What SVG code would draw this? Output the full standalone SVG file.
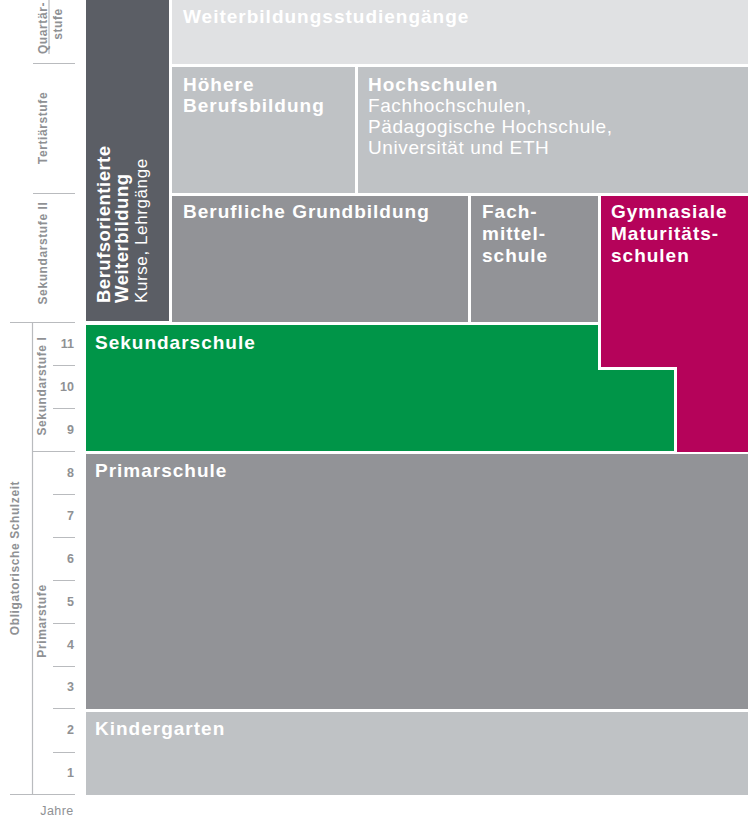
<svg xmlns="http://www.w3.org/2000/svg" width="752" height="818" viewBox="0 0 752 818">
<style>
.b{font-family:"Liberation Sans",Arial,sans-serif;font-weight:bold;font-size:19px;letter-spacing:1px;fill:#fff}
.r{font-family:"Liberation Sans",Arial,sans-serif;font-size:19px;letter-spacing:0.6px;fill:#fff}
.rb{font-family:"Liberation Sans",Arial,sans-serif;font-weight:bold;font-size:18.5px;letter-spacing:0.5px;fill:#fff}
.rr{font-family:"Liberation Sans",Arial,sans-serif;font-size:17px;letter-spacing:0.6px;fill:#fff}
.ax{font-family:"Liberation Sans",Arial,sans-serif;font-weight:bold;font-size:12px;letter-spacing:0.6px;fill:#8f9194}
.num{font-family:"Liberation Sans",Arial,sans-serif;font-weight:bold;font-size:12.5px;fill:#8f9194;text-anchor:end}
.ln{stroke:#b9bbbe;stroke-width:1.2;fill:none}
</style>
<rect width="752" height="818" fill="#fff"/>
<g id="axis">
<path class="ln" d="M33 63.5H75M33 193.5H75M49 0V54M10 322.5H75M32.5 322V795M32 451.5H75M10 794.5H75M53 365.5H75M53 408.5H75M53 494.5H75M53 537.5H75M53 580.5H75M53 623.5H75M53 666.5H75M53 708.5H75M53 752.5H75"/>
<text class="ax" text-anchor="middle" transform="translate(47,28) rotate(-90)">Quartär-</text>
<text class="ax" text-anchor="middle" transform="translate(62,24) rotate(-90)">stufe</text>
<text class="ax" text-anchor="middle" transform="translate(47,128) rotate(-90)">Tertiärstufe</text>
<text class="ax" text-anchor="middle" transform="translate(47,253) rotate(-90)">Sekundarstufe II</text>
<text class="ax" text-anchor="middle" transform="translate(46,386) rotate(-90)">Sekundarstufe I</text>
<text class="ax" text-anchor="middle" transform="translate(46,621) rotate(-90)">Primarstufe</text>
<text class="ax" text-anchor="middle" transform="translate(19,558) rotate(-90)">Obligatorische Schulzeit</text>
<text class="num" x="74" y="348">11</text>
<text class="num" x="74" y="391">10</text>
<text class="num" x="74" y="434">9</text>
<text class="num" x="74" y="477">8</text>
<text class="num" x="74" y="520">7</text>
<text class="num" x="74" y="563">6</text>
<text class="num" x="74" y="606">5</text>
<text class="num" x="74" y="649">4</text>
<text class="num" x="74" y="691">3</text>
<text class="num" x="74" y="734">2</text>
<text class="num" x="74" y="777">1</text>
<text x="57" y="815" text-anchor="middle" style="font-family:'Liberation Sans',Arial,sans-serif;font-size:12.5px;letter-spacing:0.4px;fill:#8f9194">Jahre</text>
</g>
<g id="weiterbildung-beruf">
<rect x="86" y="0" width="83" height="321" fill="#5b5e65"/>
<text class="rb" transform="translate(110,303) rotate(-90)">Berufsorientierte</text>
<text class="rb" transform="translate(128,303) rotate(-90)">Weiterbildung</text>
<text class="rr" transform="translate(147,303) rotate(-90)">Kurse, Lehrgänge</text>
</g>
<g id="weiterbildungsstudiengaenge">
<rect x="172" y="0" width="576" height="64" fill="#e0e1e3"/>
<text class="b" x="183" y="23">Weiterbildungsstudiengänge</text>
</g>
<g id="hoehere-berufsbildung">
<rect x="172" y="67" width="183" height="126" fill="#bfc2c5"/>
<text class="b" x="183" y="91">Höhere</text>
<text class="b" x="183" y="112">Berufsbildung</text>
</g>
<g id="hochschulen">
<rect x="358" y="67" width="390" height="126" fill="#bfc2c5"/>
<text class="b" x="368" y="91">Hochschulen</text>
<text class="r" x="368" y="112">Fachhochschulen,</text>
<text class="r" x="368" y="133">Pädagogische Hochschule,</text>
<text class="r" x="368" y="154">Universität und ETH</text>
</g>
<g id="berufliche-grundbildung">
<rect x="172" y="196" width="296" height="126" fill="#929397"/>
<text class="b" x="183" y="218">Berufliche Grundbildung</text>
</g>
<g id="fachmittelschule">
<rect x="471" y="196" width="127" height="126" fill="#929397"/>
<text class="b" x="482" y="218">Fach-</text>
<text class="b" x="482" y="240">mittel-</text>
<text class="b" x="482" y="262">schule</text>
</g>
<g id="gymnasium">
<path d="M601 196H748V452H677V367H601Z" fill="#b5035a"/>
<text class="b" x="611" y="218">Gymnasiale</text>
<text class="b" x="611" y="240">Maturitäts-</text>
<text class="b" x="611" y="262">schulen</text>
</g>
<g id="sekundarschule">
<path d="M86 325H598V370H674V451H86Z" fill="#009548"/>
<text class="b" x="95" y="349">Sekundarschule</text>
</g>
<g id="primarschule">
<rect x="86" y="454" width="662" height="255" fill="#929397"/>
<text class="b" x="95" y="477">Primarschule</text>
</g>
<g id="kindergarten">
<rect x="86" y="712" width="662" height="83" fill="#bfc2c5"/>
<text class="b" x="95" y="735">Kindergarten</text>
</g>
<g id="connectors"/>
</svg>
